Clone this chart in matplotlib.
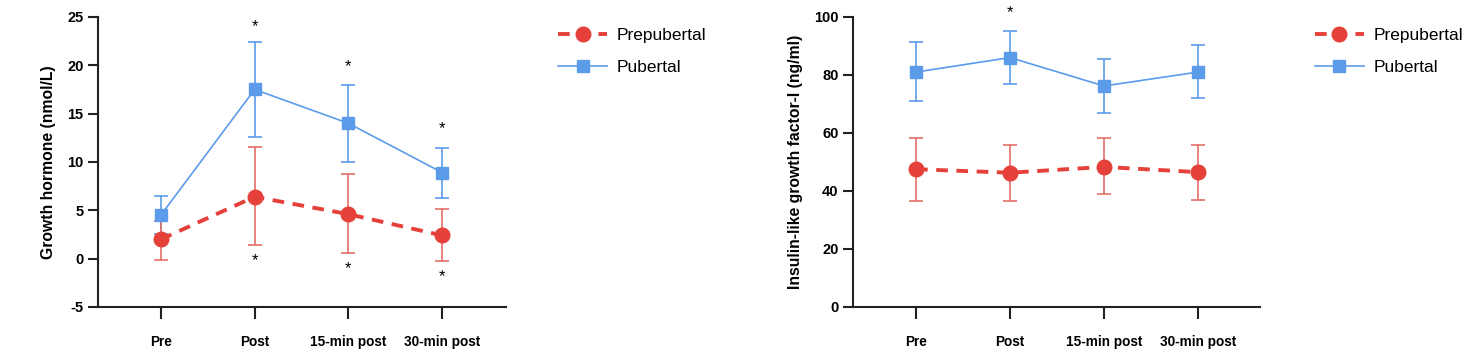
import matplotlib
matplotlib.use("Agg")
import matplotlib.pyplot as plt
import numpy as np

plt.rcParams["font.family"] = ["Liberation Sans", "DejaVu Sans"]
plt.rcParams["axes.unicode_minus"] = False

categories = ["Pre", "Post", "15-min post", "30-min post"]

# Growth hormone (nmol/L)
gh_pre_mean = [2.0, 6.4, 4.6, 2.4]
gh_pre_lo = [-0.1, 1.4, 0.6, -0.2]
gh_pre_hi = [3.9, 11.5, 8.8, 5.1]
gh_pub_mean = [4.5, 17.5, 14.0, 8.9]
gh_pub_lo = [2.5, 12.6, 10.0, 6.3]
gh_pub_hi = [6.5, 22.4, 18.0, 11.4]
gh_star_top = [None, 24.0, 19.9, 13.4]
gh_star_bot = [None, -0.2, -1.0, -1.9]

# IGF-I (ng/ml)
igf_pre_mean = [47.5, 46.3, 48.3, 46.5]
igf_pre_lo = [36.5, 36.5, 38.8, 37.0]
igf_pre_hi = [58.3, 56.0, 58.3, 56.0]
igf_pub_mean = [81.0, 86.0, 76.2, 81.0]
igf_pub_lo = [71.0, 77.0, 67.0, 72.0]
igf_pub_hi = [91.3, 95.2, 85.5, 90.2]
igf_star_top = [None, 101.5, None, None]

RED = "#e5413a"
RED_ERR = "#e46e68"
BLUE = "#5b9be9"
AX = "#222222"

fig = plt.figure(figsize=(14.69, 3.61), dpi=100)
ax1 = fig.add_axes([0.0667, 0.1496, 0.2778, 0.8034])
ax2 = fig.add_axes([0.5807, 0.1496, 0.2770, 0.8034])

x = np.arange(len(categories))

def draw(ax, pm, plo, phi, bm, blo, bhi):
    pm = np.array(pm); bm = np.array(bm)
    perr = [pm - np.array(plo), np.array(phi) - pm]
    berr = [bm - np.array(blo), np.array(bhi) - bm]
    ax.errorbar(x, bm, yerr=berr, fmt="none", ecolor=BLUE, elinewidth=1.2,
                capsize=5, capthick=1.2, zorder=2)
    ax.errorbar(x, pm, yerr=perr, fmt="none", ecolor=RED_ERR, elinewidth=1.2,
                capsize=5, capthick=1.2, zorder=2)
    ax.plot(x, bm, color=BLUE, lw=1.2, marker="s", ms=8, mec=BLUE,
            mfc=BLUE, label="Pubertal", zorder=3)
    ax.plot(x, pm, color=RED, lw=2.8, ls=(0, (3, 2.2)), marker="o", ms=10.5,
            mec=RED, mfc=RED, label="Prepubertal", zorder=4)
    for s in ["top", "right"]:
        ax.spines[s].set_visible(False)
    for s in ["left", "bottom"]:
        ax.spines[s].set_linewidth(1.5)
        ax.spines[s].set_color(AX)
    ax.set_xticks(x)
    ax.set_xticklabels(categories, fontweight="bold", fontsize=9.8)
    ax.tick_params(axis="x", length=8.6, width=1.5, pad=11.5, color=AX)
    ax.tick_params(axis="y", length=7, width=1.5, labelsize=10.5, color=AX)

draw(ax1, gh_pre_mean, gh_pre_lo, gh_pre_hi, gh_pub_mean, gh_pub_lo, gh_pub_hi)
ax1.set_xlim(-0.67, 3.68)
ax1.set_ylim(-5, 25)
ax1.set_yticks([-5, 0, 5, 10, 15, 20, 25])
for lab in ax1.get_yticklabels():
    lab.set_fontweight("bold")
ax1.set_ylabel("Growth hormone (nmol/L)", fontweight="bold", fontsize=11.3, labelpad=8)
for xi, (t, b) in enumerate(zip(gh_star_top, gh_star_bot)):
    if t is not None:
        ax1.text(xi, t, "*", ha="center", va="center", fontsize=12)
    if b is not None:
        ax1.text(xi, b, "*", ha="center", va="center", fontsize=12)

draw(ax2, igf_pre_mean, igf_pre_lo, igf_pre_hi, igf_pub_mean, igf_pub_lo, igf_pub_hi)
ax2.set_xlim(-0.67, 3.66)
ax2.set_ylim(0, 100)
ax2.set_yticks([0, 20, 40, 60, 80, 100])
for lab in ax2.get_yticklabels():
    lab.set_fontweight("bold")
ax2.set_ylabel("Insulin-like growth factor-I (ng/ml)", fontweight="bold", fontsize=11.3, labelpad=8)
for xi, t in enumerate(igf_star_top):
    if t is not None:
        ax2.text(xi, t, "*", ha="center", va="center", fontsize=12)

order = [1, 0]
for ax, xpos in [(ax1, 0.3753), (ax2, 0.8905)]:
    hh, ll = ax.get_legend_handles_labels()
    fig.legend([hh[i] for i in order], [ll[i] for i in order],
               loc="upper left", bbox_to_anchor=(xpos, 0.943), frameon=False,
               fontsize=12.5, handlelength=2.8, labelspacing=1.0, handletextpad=0.55,
               borderaxespad=0.0, borderpad=0.4)

fig.savefig("out.png", dpi=100, facecolor="white")
